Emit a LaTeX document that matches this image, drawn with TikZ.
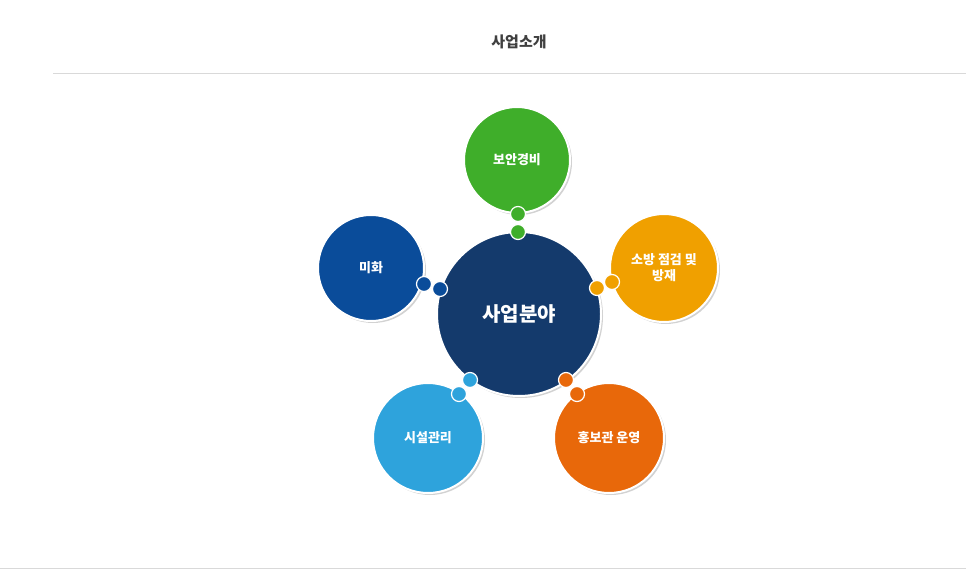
\documentclass[tikz,border=0pt]{standalone}
\usepackage{fontspec}
\newfontfamily\cjk{Noto Sans CJK KR}
\usetikzlibrary{shadows}
\definecolor{cgreen}{HTML}{3FAE2A}
\definecolor{corange}{HTML}{F0A000}
\definecolor{cblue}{HTML}{0A4C9A}
\definecolor{clight}{HTML}{2EA3DC}
\definecolor{cred}{HTML}{E8680A}
\definecolor{cnavy}{HTML}{143A6C}
\tikzset{
  bub/.style={circle,draw=white,line width=2pt,inner sep=0pt,text=white,font=\cjk\bfseries\fontsize{13}{16}\selectfont,align=center,drop shadow={shadow xshift=2pt,shadow yshift=-2pt,opacity=0.35}},
  dot/.style={circle,draw=white,line width=1.2pt,inner sep=0pt,minimum size=15pt},
}
\begin{document}
\begin{tikzpicture}[x=1pt,y=-1pt]
\useasboundingbox[fill=white] (0,0) rectangle (966,572);
\node[font=\cjk\bfseries\fontsize{15}{18}\selectfont,text=black!75] (title) at (519,42) {사업소개};
\draw[black!15] (53,73) -- (966,73);
\draw[black!15] (0,568) -- (966,568);
\node[bub,fill=cgreen,minimum size=106pt] (g) at (517,160) {보안경비};
\node[bub,fill=corange,minimum size=108pt] (o) at (664,268) {소방 점검 및\\방재};
\node[bub,fill=cblue,minimum size=106pt] (b) at (371,268) {미화};
\node[bub,fill=clight,minimum size=110pt] (l) at (428,438) {시설관리};
\node[bub,fill=cred,minimum size=110pt] (r) at (609,438) {홍보관 운영};
\node[bub,fill=cnavy,minimum size=164pt,font=\cjk\bfseries\fontsize{20}{24}\selectfont] (c) at (519,314) {사업분야};
\node[dot,fill=cgreen] (g1) at (518,214) {};
\node[dot,fill=cgreen] (g2) at (518,232) {};
\node[dot,fill=corange] (o1) at (597,288) {};
\node[dot,fill=corange] (o2) at (612,282) {};
\node[dot,fill=cblue] (b1) at (424,284) {};
\node[dot,fill=cblue] (b2) at (440,289) {};
\node[dot,fill=clight] (l1) at (470,380) {};
\node[dot,fill=clight] (l2) at (459,394) {};
\node[dot,fill=cred] (r1) at (566,380) {};
\node[dot,fill=cred] (r2) at (577,394) {};
\end{tikzpicture}
\end{document}
